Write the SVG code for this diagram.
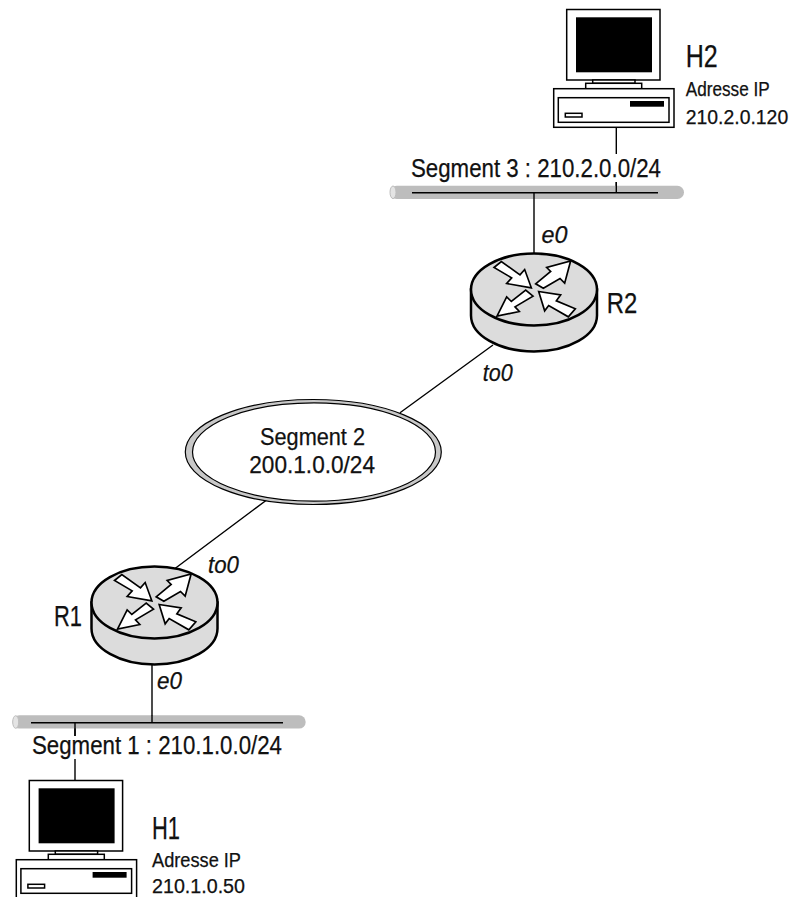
<svg xmlns="http://www.w3.org/2000/svg" width="795" height="897" viewBox="0 0 795 897">
<style>
text{font-family:"Liberation Sans",Arial,sans-serif;fill:#111;stroke:#111;stroke-width:.25}
.seg{font-size:26px}.seg2{font-size:24px}.h{font-size:31px}.ip{font-size:20px}.r{font-size:29px}
.i{font-size:24px;font-style:italic}
.ln{stroke:#000;stroke-width:1.4;fill:none}
.bar{fill:#bdbdbd}
.o{fill:#fff;stroke:#000;stroke-width:1.5}
.k{fill:#000;stroke:none}
</style>
<defs>
<g id="router">
<path d="M-63 0V26A63 36 0 0 0 63 26V0Z" fill="#dcdcdc" stroke="#000" stroke-width="2.5"/>
<ellipse cx="0" cy="0" rx="63" ry="36" fill="#dcdcdc" stroke="#000" stroke-width="2.5"/>
<g transform="scale(.3333)" fill="#fff" stroke="#000" stroke-width="5" stroke-linejoin="miter">
<polygon points="-120,-66 -98,-84 -42,-44 -28,-60 -8,-5 -82,-18 -67,-35"/>
<polygon points="5,-17 50,-54 38,-66 110,-86 92,-19 78,-33 28,-4"/>
<polygon points="-25,2 -68,36 -82,22 -111,80 -44,66 -57,52 -3,20"/>
<polygon points="14,6 80,16 67,34 124,58 103,82 44,48 32,64"/>
</g>
</g>
<g id="pc">
<rect class="o" x="566.7" y="9.5" width="93.3" height="70.5"/>
<rect class="k" x="576" y="17.3" width="76" height="55"/>
<rect class="o" x="592.7" y="80" width="42.3" height="3.3"/>
<rect class="o" x="585.7" y="83.3" width="56" height="5.4"/>
<rect class="o" x="553.7" y="88.7" width="120.3" height="38.6"/>
<rect class="o" x="558.3" y="97.7" width="110.7" height="24.6"/>
<rect class="k" x="630" y="101" width="34" height="5.7"/>
<rect class="o" x="565.3" y="113.3" width="16.7" height="3.7"/>
</g>
</defs>
<g id="connectors">
<path class="ln" d="M616.3 127V154M616.3 182V192.7M534 192.7V254"/>
<path class="ln" d="M493 345L400 412.7M268 499L175 568.5"/>
<path class="ln" d="M152 664V722.7M75 722.7V736M75 759V780"/>
</g>
<g id="segment3">
<rect class="bar" x="390" y="185.7" width="294" height="13.3" rx="6.6"/>
<ellipse cx="393" cy="192.3" rx="3" ry="6.3" fill="#e4e4e4" stroke="#bdbdbd"/>
<path class="ln" d="M412 192.7H658"/>
<path class="ln" d="M616.3 182V192.7M534 192.7V199"/>
<text class="seg" x="411" y="177.3" textLength="250" lengthAdjust="spacingAndGlyphs">Segment 3 : 210.2.0.0/24</text>
</g>
<g id="segment1">
<rect class="bar" x="12.7" y="715.3" width="293" height="13.3" rx="6.6"/>
<ellipse cx="15.7" cy="722" rx="3" ry="6.3" fill="#e4e4e4" stroke="#bdbdbd"/>
<path class="ln" d="M31 722.7H283"/>
<path class="ln" d="M152 715V722.7M75 722.7V736"/>
<text class="seg" x="32" y="754.3" textLength="250" lengthAdjust="spacingAndGlyphs">Segment 1 : 210.1.0.0/24</text>
</g>
<g id="segment2">
<ellipse cx="313.3" cy="452" rx="128" ry="52.5" fill="#c8c8c8" stroke="#000" stroke-width="1.2"/>
<ellipse cx="314" cy="452" rx="121.5" ry="49.2" fill="#fff" stroke="#000" stroke-width="1.2"/>
<text class="seg2" x="260" y="445.3" textLength="105" lengthAdjust="spacingAndGlyphs">Segment 2</text>
<text class="seg2" x="249.3" y="473" textLength="125.7" lengthAdjust="spacingAndGlyphs">200.1.0.0/24</text>
</g>
<g id="R2">
<use href="#router" x="534" y="289.5"/>
<text class="r" x="606.7" y="312.7" textLength="30.5" lengthAdjust="spacingAndGlyphs">R2</text>
<text class="i" x="541.5" y="242.5" textLength="26" lengthAdjust="spacingAndGlyphs">e0</text>
<text class="i" x="482.7" y="380.7" textLength="30" lengthAdjust="spacingAndGlyphs">to0</text>
</g>
<g id="R1">
<use href="#router" x="154.5" y="602.5"/>
<text class="r" x="54" y="626" textLength="28" lengthAdjust="spacingAndGlyphs">R1</text>
<text class="i" x="208" y="572.7" textLength="31" lengthAdjust="spacingAndGlyphs">to0</text>
<text class="i" x="157" y="688.5" textLength="25" lengthAdjust="spacingAndGlyphs">e0</text>
</g>
<g id="H2">
<use href="#pc"/>
<text class="h" x="685.7" y="66.7" textLength="32" lengthAdjust="spacingAndGlyphs">H2</text>
<text class="ip" x="685.7" y="96" textLength="84" lengthAdjust="spacingAndGlyphs">Adresse IP</text>
<text class="ip" x="685.7" y="124" textLength="102.5" lengthAdjust="spacingAndGlyphs">210.2.0.120</text>
</g>
<g id="H1">
<use href="#pc" x="-537.4" y="771"/>
<text class="h" x="152" y="839.3" textLength="28" lengthAdjust="spacingAndGlyphs">H1</text>
<text class="ip" x="152" y="867" textLength="89" lengthAdjust="spacingAndGlyphs">Adresse IP</text>
<text class="ip" x="152" y="892.7" textLength="93" lengthAdjust="spacingAndGlyphs">210.1.0.50</text>
</g>
</svg>
